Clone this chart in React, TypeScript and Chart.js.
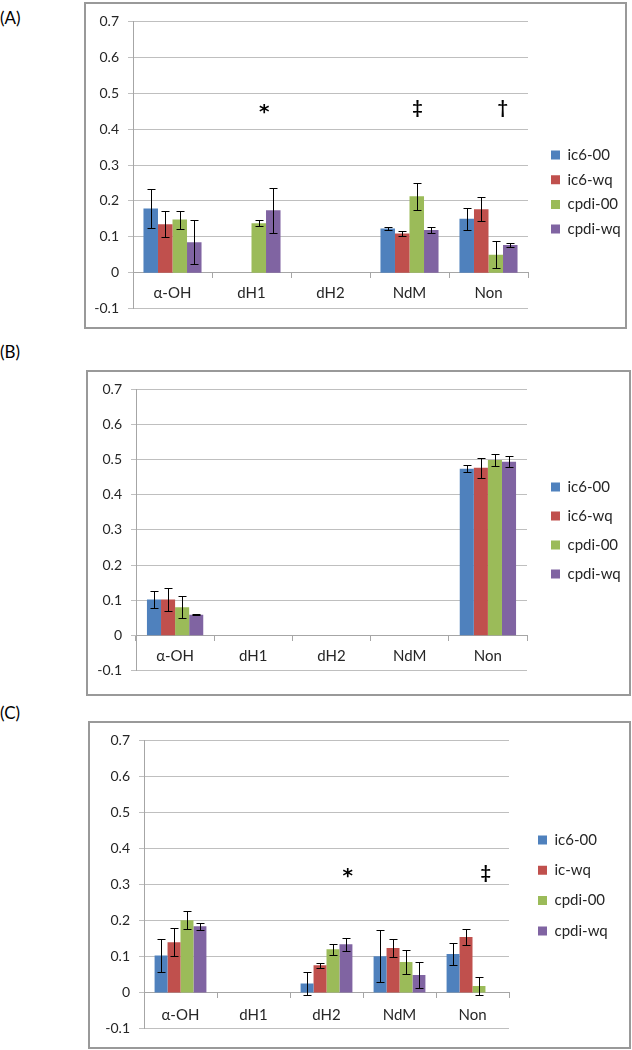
import React, { useEffect, useRef } from 'react';
import { Chart, registerables } from 'chart.js';

Chart.register(...registerables);

// ---------- data ----------
const categories = ['α-OH', 'dH1', 'dH2', 'NdM', 'Non'];
const seriesAB = ['ic6-00', 'ic6-wq', 'cpdi-00', 'cpdi-wq'];
const seriesC = ['ic6-00', 'ic-wq', 'cpdi-00', 'cpdi-wq'];
const yTickLabels = ['-0.1', '0', '0.1', '0.2', '0.3', '0.4', '0.5', '0.6', '0.7'];
const colors = ['#4F81BD', '#C0504D', '#9BBB59', '#8064A2'];

// Panel A
const aIc600 = [0.179, null, null, 0.123, 0.150];
const aIc6wq = [0.135, null, null, 0.109, 0.177];
const aCpdi00 = [0.148, 0.138, null, 0.213, 0.050];
const aCpdiwq = [0.085, 0.174, null, 0.119, 0.077];
const aErrIc600 = [0.055, null, null, 0.004, 0.030];
const aErrIc6wq = [0.036, null, null, 0.007, 0.034];
const aErrCpdi00 = [0.025, 0.009, null, 0.038, 0.037];
const aErrCpdiwq = [0.061, 0.063, null, 0.008, 0.006];
const aMarks = [
  { cat: 'dH1', text: '*' },
  { cat: 'NdM', text: '‡' },
  { cat: 'Non', text: '†' },
];

// Panel B
const bIc600 = [0.102, null, null, null, 0.474];
const bIc6wq = [0.102, null, null, null, 0.477];
const bCpdi00 = [0.080, null, null, null, 0.499];
const bCpdiwq = [0.059, null, null, null, 0.494];
const bErrIc600 = [0.024, null, null, null, 0.010];
const bErrIc6wq = [0.033, null, null, null, 0.028];
const bErrCpdi00 = [0.031, null, null, null, 0.016];
const bErrCpdiwq = [0.002, null, null, null, 0.016];

// Panel C
const cIc600 = [0.103, null, 0.025, 0.101, 0.107];
const cIcwq = [0.140, null, 0.076, 0.124, 0.154];
const cCpdi00 = [0.201, null, 0.120, 0.085, 0.018];
const cCpdiwq = [0.184, null, 0.134, 0.049, null];
const cErrIc600 = [0.045, null, 0.032, 0.072, 0.030];
const cErrIcwq = [0.039, null, 0.007, 0.024, 0.023];
const cErrCpdi00 = [0.025, null, 0.015, 0.034, 0.024];
const cErrCpdiwq = [0.010, null, 0.018, 0.035, null];
const cMarks = [
  { cat: 'dH2', text: '*' },
  { cat: 'Non', text: '‡' },
];

// ---------- styling / layout ----------
const FONT = 'Lato, "DejaVu Sans", sans-serif';
const TEXT = '#262626';
const GRID = '#bfbfbf';
const AXIS = '#a6a6a6';

type Panel = {
  letter: string;
  labelTop: number;
  frame: { left: number; top: number; width: number; height: number };
  canvas: { left: number; top: number; width: number; height: number };
  series: string[];
  values: (number | null)[][];
  errors: (number | null)[][];
  marks: { cat: string; text: string }[];
  markLevel: number;
  markShift: number[];
  catPct: number;
  yWidth: number;
  gap: number;
  pad: { top: number; bottom: number; right: number };
  legendPad: number;
  legendOffset: number;
  xLabelPad: number;
};

const panels: Panel[] = [
  {
    letter: 'A',
    labelTop: 8,
    frame: { left: 84, top: 2, width: 543, height: 327 },
    canvas: { left: 86, top: 4, width: 538, height: 322 },
    series: seriesAB,
    values: [aIc600, aIc6wq, aCpdi00, aCpdiwq],
    errors: [aErrIc600, aErrIc6wq, aErrCpdi00, aErrCpdiwq],
    marks: aMarks,
    markLevel: 0.457,
    markShift: [0.16, 0.1, 0.18],
    catPct: 0.735,
    yWidth: 47,
    gap: 13.3,
    pad: { top: 13, bottom: 13, right: 42.7 },
    legendPad: 9.7,
    legendOffset: 110.8,
    xLabelPad: 6.2,
  },
  {
    letter: 'B',
    labelTop: 342,
    frame: { left: 86, top: 370, width: 545, height: 326 },
    canvas: { left: 88, top: 372, width: 540, height: 322 },
    series: seriesAB,
    values: [bIc600, bIc6wq, bCpdi00, bCpdiwq],
    errors: [bErrIc600, bErrIc6wq, bErrCpdi00, bErrCpdiwq],
    marks: [],
    markLevel: 0,
    markShift: [],
    catPct: 0.72,
    yWidth: 48,
    gap: 10,
    pad: { top: 16, bottom: 23.5, right: 51 },
    legendPad: 14,
    legendOffset: 67.5,
    xLabelPad: 7.2,
  },
  {
    letter: 'C',
    labelTop: 703,
    frame: { left: 88, top: 721, width: 543, height: 328 },
    canvas: { left: 90, top: 723, width: 539, height: 323 },
    series: seriesC,
    values: [cIc600, cIcwq, cCpdi00, cCpdiwq],
    errors: [cErrIc600, cErrIcwq, cErrCpdi00, cErrCpdiwq],
    marks: cMarks,
    markLevel: 0.332,
    markShift: [0.29, 0.18],
    catPct: 0.71,
    yWidth: 54,
    gap: 13.7,
    pad: { top: 16, bottom: 16, right: 66.3 },
    legendPad: 15.3,
    legendOffset: 68.2,
    xLabelPad: 8.2,
  },
];

const errorBarPlugin = {
  id: 'errorBars',
  afterDatasetsDraw(chart: any, _args: any, opts: any) {
    const errs: (number | null)[][] = opts.errors || [];
    const y = chart.scales.y;
    const ctx = chart.ctx;
    ctx.save();
    ctx.strokeStyle = '#000';
    ctx.lineWidth = 1;
    chart.data.datasets.forEach((ds: any, i: number) => {
      const meta = chart.getDatasetMeta(i);
      ds.data.forEach((v: number | null, j: number) => {
        const e = errs[i] ? errs[i][j] : null;
        if (v === null || e === null || e === undefined) return;
        const bar = meta.data[j];
        const x = Math.round(bar.x) + 0.5;
        const yt = Math.round(y.getPixelForValue(v + e)) + 0.5;
        const yb = Math.round(y.getPixelForValue(v - e)) + 0.5;
        ctx.beginPath();
        ctx.moveTo(x, yt);
        ctx.lineTo(x, yb);
        ctx.moveTo(x - 4, yt);
        ctx.lineTo(x + 4, yt);
        ctx.moveTo(x - 4, yb);
        ctx.lineTo(x + 4, yb);
        ctx.stroke();
      });
    });
    ctx.restore();
  },
};

// keeps the chart area fixed (legend maxWidth) but lets the legend text draw fully
const legendWidenPlugin = {
  id: 'legendWiden',
  afterLayout(chart: any) {
    const lg = chart.legend;
    if (!lg) return;
    lg.width = 110;
    lg.right = lg.left + 110;
  },
};

const marksPlugin = {
  id: 'sigMarks',
  afterDraw(chart: any, _args: any, opts: any) {
    const marks: { cat: string; text: string }[] = opts.marks || [];
    if (!marks.length) return;
    const xs = chart.scales.x;
    const ys = chart.scales.y;
    const ctx = chart.ctx;
    ctx.save();
    ctx.fillStyle = '#000';
    ctx.textAlign = 'center';
    ctx.textBaseline = 'middle';
    marks.forEach((m, k) => {
      const idx = chart.data.labels.indexOf(m.cat);
      const px = xs.getPixelForValue(idx + (opts.shift[k] || 0));
      const py = ys.getPixelForValue(opts.level);
      if (m.text === '*') {
        ctx.font = 'bold 20px "DejaVu Sans", sans-serif';
        ctx.fillText(m.text, px, py + 4);
      } else {
        ctx.font = 'bold 18px ' + FONT;
        ctx.fillText(m.text, px, py);
      }
    });
    ctx.restore();
  },
};

function makeConfig(p: Panel): any {
  return {
    type: 'bar',
    data: {
      labels: categories,
      datasets: p.series.map((name, i) => ({
        label: name,
        data: p.values[i],
        backgroundColor: colors[i],
        borderColor: colors[i],
        borderWidth: 0,
        categoryPercentage: p.catPct,
        barPercentage: 1,
      })),
    },
    options: {
      responsive: false,
      animation: false,
      devicePixelRatio: 1,
      layout: { padding: { left: 0, top: p.pad.top, bottom: p.pad.bottom, right: p.pad.right } },
      plugins: {
        tooltip: { enabled: false },
        legend: {
          display: true,
          position: 'right',
          align: 'start',
          maxWidth: 40,
          title: {
            display: true,
            text: ' ',
            font: { size: 10, lineHeight: 1 },
            padding: { top: p.legendOffset, bottom: 0 },
          },
          labels: {
            boxWidth: 9,
            boxHeight: 9,
            padding: p.legendPad,
            color: TEXT,
            font: { family: FONT, size: 15 },
          },
        },
        errorBars: { errors: p.errors },
        sigMarks: { marks: p.marks, level: p.markLevel, shift: p.markShift },
      },
      scales: {
        x: {
          type: 'category',
          position: { y: 0 },
          offset: true,
          grid: {
            display: true,
            offset: true,
            drawOnChartArea: false,
            drawTicks: true,
            tickLength: 5,
            color: AXIS,
          },
          border: { display: true, color: AXIS, width: 1 },
          ticks: {
            color: TEXT,
            font: { family: FONT, size: 15 },
            padding: p.xLabelPad,
            autoSkip: false,
            maxRotation: 0,
          },
        },
        y: {
          type: 'linear',
          position: 'left',
          min: -0.1,
          max: 0.7,
          ticks: {
            stepSize: 0.1,
            color: TEXT,
            font: { family: FONT, size: 14 },
            padding: 9,
            callback: (_v: any, i: number) => yTickLabels[i],
          },
          grid: { color: GRID, drawTicks: true, tickLength: 5 },
          border: { display: true, color: AXIS, width: 1 },
          afterFit: (s: any) => {
            s.width = p.yWidth;
          },
        },
        gap: {
          type: 'linear',
          position: 'right',
          display: true,
          grid: { display: false, drawTicks: false },
          border: { display: false },
          ticks: { display: false },
          afterFit: (s: any) => {
            s.width = p.gap;
          },
        },
      },
    },
    plugins: [errorBarPlugin, marksPlugin, legendWidenPlugin],
  };
}

function PanelView({ p }: { p: Panel }) {
  const ref = useRef<HTMLCanvasElement | null>(null);
  useEffect(() => {
    if (!ref.current) return;
    const chart = new Chart(ref.current, makeConfig(p));
    return () => chart.destroy();
  }, [p]);
  return (
    <>
      <div
        style={{
          position: 'absolute',
          left: 0,
          top: p.labelTop,
          fontSize: 17,
          lineHeight: '20px',
          fontFamily: FONT,
          color: '#000',
        }}
      >
        ({p.letter})
      </div>
      <div
        style={{
          position: 'absolute',
          left: p.frame.left,
          top: p.frame.top,
          width: p.frame.width,
          height: p.frame.height,
          border: '2px solid #999',
          boxSizing: 'border-box',
        }}
      />
      <canvas
        ref={ref}
        width={p.canvas.width}
        height={p.canvas.height}
        style={{
          position: 'absolute',
          left: p.canvas.left,
          top: p.canvas.top,
          width: p.canvas.width,
          height: p.canvas.height,
        }}
      />
    </>
  );
}

export default function App() {
  return (
    <div
      style={{
        position: 'fixed',
        left: 0,
        top: 0,
        width: 632,
        height: 1050,
        background: '#fff',
        overflow: 'hidden',
      }}
    >
      {panels.map((p) => (
        <PanelView key={p.letter} p={p} />
      ))}
    </div>
  );
}
